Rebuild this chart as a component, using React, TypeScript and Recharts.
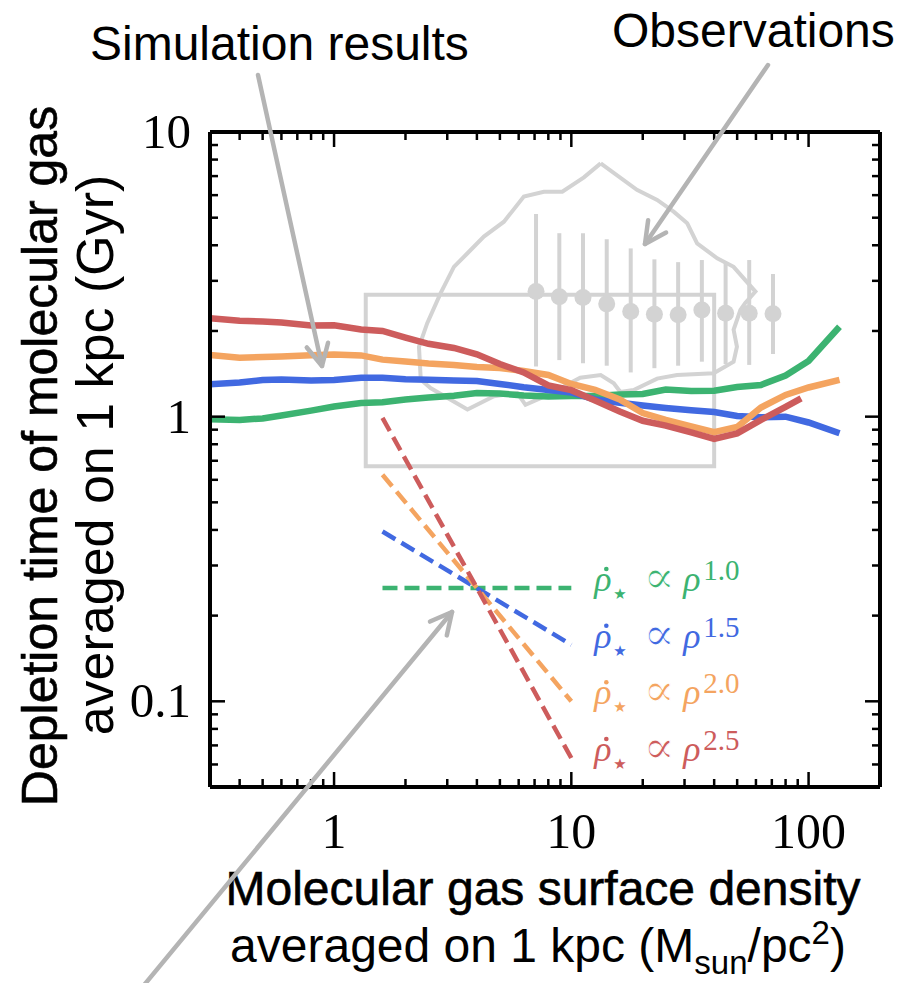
import React from 'react';
import { ComposedChart, Line, Scatter, XAxis, YAxis, ReferenceArea, ErrorBar } from 'recharts';

// surface density bins of the simulation curves (Msun/pc^2)
const sigma = [0.3, 0.4, 0.5, 0.6, 0.8, 1.0, 1.3, 1.6, 2.0, 2.5, 3.2, 4, 5, 6.3, 8, 10, 12.6, 16, 20, 25, 32, 40, 50, 63, 80, 100, 135];
const tdepGreen = [0.98, 0.974, 0.986, 1.01, 1.05, 1.086, 1.117, 1.124, 1.149, 1.168, 1.185, 1.211, 1.206, 1.187, 1.178, 1.182, 1.182, 1.197, 1.202, 1.246, 1.231, 1.233, 1.271, 1.292, 1.395, 1.569, 2.07];
const tdepBlue = [1.3, 1.318, 1.346, 1.351, 1.34, 1.344, 1.371, 1.371, 1.353, 1.348, 1.341, 1.335, 1.303, 1.269, 1.241, 1.216, 1.149, 1.119, 1.095, 1.073, 1.053, 1.039, 1.006, 0.995, 1.0, 0.954, 0.874];
const tdepOrange = [1.647, 1.611, 1.62, 1.627, 1.643, 1.654, 1.641, 1.586, 1.563, 1.538, 1.519, 1.495, 1.483, 1.447, 1.401, 1.303, 1.243, 1.15, 1.03, 0.974, 0.924, 0.882, 0.92, 1.077, 1.192, 1.266, 1.346];
const redSigma = [0.3, 0.4, 0.5, 0.6, 0.8, 1.0, 1.3, 1.6, 2.0, 2.5, 3.2, 4, 5, 6.3, 8, 10, 12.6, 16, 20, 25, 32, 40, 50, 63, 80, 93];
const tdepRed = [2.216, 2.174, 2.16, 2.142, 2.091, 2.094, 2.025, 2.0, 1.897, 1.803, 1.743, 1.656, 1.531, 1.43, 1.287, 1.239, 1.14, 1.042, 0.967, 0.93, 0.88, 0.835, 0.873, 0.974, 1.082, 1.16];

// observations: medians with upper / lower bounds
const obsSigma = [7.1, 8.9, 11.2, 14.1, 17.8, 22.4, 28.2, 35.5, 44.7, 56.2, 70.8];
const obsMedian = [2.75, 2.64, 2.62, 2.49, 2.34, 2.29, 2.28, 2.37, 2.31, 2.31, 2.3];
const obsUpper = [5.15, 4.41, 4.41, 4.2, 3.9, 3.57, 3.49, 3.55, 3.46, 3.55, 3.17];
const obsLower = [1.5, 1.58, 1.54, 1.51, 1.43, 1.48, 1.51, 1.56, 1.53, 1.52, 1.66];

// observation contour
const contourSigma = [13.3, 18.9, 23.0, 27.0, 30.8, 33.9, 41.2, 48.3, 59.7, 54.1, 51.6, 48.3, 49.9, 48.3, 39.8, 27.9, 23.0, 18.3, 16.1, 15.1, 13.3, 10.9, 7.92, 6.41, 5.92, 4.72, 3.65, 2.55, 2.32, 2.28, 2.47, 2.81, 3.2, 3.65, 4.28, 5.2, 6.31, 7.66, 9.16, 11.3, 13.3];
const contourTdep = [7.76, 6.26, 5.77, 5.25, 4.78, 4.06, 3.6, 3.36, 2.75, 2.51, 2.37, 2.02, 1.76, 1.56, 1.42, 1.4, 1.36, 1.24, 1.22, 1.31, 1.4, 1.37, 1.19, 1.1, 1.21, 1.18, 1.06, 1.26, 1.35, 1.76, 2.13, 2.71, 3.36, 3.75, 4.29, 4.84, 5.93, 6.17, 6.17, 6.93, 7.76];
const boxSigma = [1.36, 40];
const boxTdep = [0.67, 2.68];

// power-law guides
const lawSigma = [1.6, 10];
const law10 = [0.25, 0.25];
const law15 = [0.395, 0.158];
const law20 = [0.625, 0.1];
const law25 = [0.99, 0.0632];

const xTicks = [0.3, 0.4, 0.5, 0.6, 0.7, 0.8, 0.9, 1, 2, 3, 4, 5, 6, 7, 8, 9, 10, 20, 30, 40, 50, 60, 70, 80, 90, 100, 200];
const xMajor = [1, 10, 100];
const yTicks = [0.05, 0.06, 0.07, 0.08, 0.09, 0.1, 0.2, 0.3, 0.4, 0.5, 0.6, 0.7, 0.8, 0.9, 1, 2, 3, 4, 5, 6, 7, 8, 9, 10];
const yMajor = [0.1, 1, 10];

const GREEN = '#3CB371';
const BLUE = '#4169E1';
const ORANGE = '#F4A460';
const RED = '#CD5C5C';
const LIGHT = '#D3D3D3';
const ARROW = '#B4B4B4';
const SANS = '"Liberation Sans", Arial, sans-serif';
const SERIF = '"Liberation Serif", "DejaVu Serif", serif';

const pts = (xs: number[], ys: number[]) => xs.map((x, i) => ({ x, y: ys[i] }));

const obsData = obsSigma.map((x, i) => ({
  x,
  y: obsMedian[i],
  err: [obsMedian[i] - obsLower[i], obsUpper[i] - obsMedian[i]],
}));

const BottomTick = (p: any) => {
  const major = xMajor.includes(p.payload.value);
  return (
    <g>
      <line x1={p.x} x2={p.x} y1={p.y} y2={p.y - (major ? 15 : 8)} stroke="#000" strokeWidth={2.5} />
      {major && (
        <text x={p.x} y={p.y + 61} textAnchor="middle" fontFamily={SERIF} fontSize={50} fill="#000">
          {p.payload.value}
        </text>
      )}
    </g>
  );
};

const TopTick = (p: any) => {
  const major = xMajor.includes(p.payload.value);
  return <line x1={p.x} x2={p.x} y1={p.y} y2={p.y + (major ? 15 : 8)} stroke="#000" strokeWidth={2.5} />;
};

const LeftTick = (p: any) => {
  const major = yMajor.includes(p.payload.value);
  return (
    <g>
      <line x1={p.x} x2={p.x + (major ? 15 : 8)} y1={p.y} y2={p.y} stroke="#000" strokeWidth={2.5} />
      {major && (
        <text x={p.x - 19} y={p.y + 16} textAnchor="end" fontFamily={SERIF} fontSize={49} fill="#000">
          {String(p.payload.value)}
        </text>
      )}
    </g>
  );
};

const RightTick = (p: any) => {
  const major = yMajor.includes(p.payload.value);
  return <line x1={p.x} x2={p.x - (major ? 15 : 8)} y1={p.y} y2={p.y} stroke="#000" strokeWidth={2.5} />;
};

// label "rho-dot-star ∝ rho^n" at the right end of a power-law guide
const lawLabel = (color: string, exp: string) => (p: any) => {
  if (p.index !== 1) return <g />;
  return (
    <g transform={`translate(${p.x + 23},${p.y + 3})`} fill={color}>
      <text x={0} y={0} fontFamily={SERIF} fontStyle="italic" fontSize={36}>ρ</text>
      <circle cx={12} cy={-22} r={2.3} />
      <text x={19} y={8} fontFamily="DejaVu Sans, sans-serif" fontSize={15}>★</text>
      <text x={49} y={2} fontFamily="DejaVu Serif, serif" fontSize={47} stroke="#fff" strokeWidth={1}>∝</text>
      <text x={89} y={0} fontFamily={SERIF} fontStyle="italic" fontSize={36}>ρ</text>
      <text x={109} y={-11} fontFamily={SERIF} fontSize={29}>{exp}</text>
    </g>
  );
};

const Arrow = ({ x1, y1, x2, y2 }: { x1: number; y1: number; x2: number; y2: number }) => {
  const len = Math.hypot(x2 - x1, y2 - y1);
  const bx = (x1 - x2) / len;
  const by = (y1 - y2) / len;
  const a = (27 * Math.PI) / 180;
  const h = 24;
  const w1 = [x2 + h * (bx * Math.cos(a) - by * Math.sin(a)), y2 + h * (bx * Math.sin(a) + by * Math.cos(a))];
  const w2 = [x2 + h * (bx * Math.cos(-a) - by * Math.sin(-a)), y2 + h * (bx * Math.sin(-a) + by * Math.cos(-a))];
  return (
    <g stroke={ARROW} strokeWidth={4.5} fill="none" strokeLinecap="round" strokeLinejoin="round">
      <line x1={x1} y1={y1} x2={x2} y2={y2} />
      <polyline points={`${w1[0]},${w1[1]} ${x2},${y2} ${w2[0]},${w2[1]}`} />
    </g>
  );
};

const axisIds = { xAxisId: 'b', yAxisId: 'l' };
const frame = { stroke: '#000', strokeWidth: 4 };

export default function App() {
  return (
    <div style={{ position: 'absolute', left: 0, top: 0, width: 897, height: 983, background: '#fff' }}>
      <ComposedChart width={897} height={983} margin={{ top: 131, right: 16, bottom: 195, left: 209 }}>
        <XAxis xAxisId="b" dataKey="x" type="number" scale="log" domain={[0.3, 200]} allowDataOverflow
          ticks={xTicks} interval={0} height={1} tickSize={0} tickMargin={0} tickLine={false} tick={BottomTick} axisLine={frame} />
        <XAxis xAxisId="t" orientation="top" dataKey="x" type="number" scale="log" domain={[0.3, 200]} allowDataOverflow
          ticks={xTicks} interval={0} height={1} tickSize={0} tickMargin={0} tickLine={false} tick={TopTick} axisLine={frame} />
        <YAxis yAxisId="l" type="number" scale="log" domain={[0.05, 10]} allowDataOverflow
          ticks={yTicks} interval={0} width={1} tickSize={0} tickMargin={0} tickLine={false} tick={LeftTick} axisLine={frame} />
        <YAxis yAxisId="r" orientation="right" type="number" scale="log" domain={[0.05, 10]} allowDataOverflow
          ticks={yTicks} interval={0} width={1} tickSize={0} tickMargin={0} tickLine={false} tick={RightTick} axisLine={frame} />

        <ReferenceArea {...axisIds} x1={boxSigma[0]} x2={boxSigma[1]} y1={boxTdep[0]} y2={boxTdep[1]}
          fill="none" fillOpacity={0} stroke={LIGHT} strokeWidth={4} ifOverflow="visible" />
        <Line {...axisIds} data={pts(contourSigma, contourTdep)} dataKey="y" type="linear" stroke={LIGHT} strokeWidth={4} dot={false} isAnimationActive={false} />
        <Scatter {...axisIds} data={obsData} dataKey="y" fill={LIGHT} isAnimationActive={false}
          shape={(p: any) => <circle cx={p.cx} cy={p.cy} r={8.5} fill={LIGHT} />}>
          <ErrorBar dataKey="err" direction="y" width={0} stroke={LIGHT} strokeWidth={4} />
        </Scatter>

        <Line {...axisIds} data={pts(sigma, tdepGreen)} dataKey="y" type="linear" stroke={GREEN} strokeWidth={6.5} dot={false} isAnimationActive={false} />
        <Line {...axisIds} data={pts(sigma, tdepBlue)} dataKey="y" type="linear" stroke={BLUE} strokeWidth={6.5} dot={false} isAnimationActive={false} />
        <Line {...axisIds} data={pts(sigma, tdepOrange)} dataKey="y" type="linear" stroke={ORANGE} strokeWidth={6.5} dot={false} isAnimationActive={false} />
        <Line {...axisIds} data={pts(redSigma, tdepRed)} dataKey="y" type="linear" stroke={RED} strokeWidth={6.5} dot={false} isAnimationActive={false} />

        <Line {...axisIds} data={pts(lawSigma, law10)} dataKey="y" stroke={GREEN} strokeWidth={4.5} strokeDasharray="15 7" dot={false} isAnimationActive={false} label={lawLabel(GREEN, '1.0')} />
        <Line {...axisIds} data={pts(lawSigma, law15)} dataKey="y" stroke={BLUE} strokeWidth={4.5} strokeDasharray="15 7" dot={false} isAnimationActive={false} label={lawLabel(BLUE, '1.5')} />
        <Line {...axisIds} data={pts(lawSigma, law20)} dataKey="y" stroke={ORANGE} strokeWidth={4.5} strokeDasharray="15 7" dot={false} isAnimationActive={false} label={lawLabel(ORANGE, '2.0')} />
        <Line {...axisIds} data={pts(lawSigma, law25)} dataKey="y" stroke={RED} strokeWidth={4.5} strokeDasharray="15 7" dot={false} isAnimationActive={false} label={lawLabel(RED, '2.5')} />
      </ComposedChart>

      <svg width={897} height={983} style={{ position: 'absolute', left: 0, top: 0, pointerEvents: 'none' }}>
        <text x={90} y={60} fontFamily={SANS} fontSize={48} fill="#000">Simulation results</text>
        <text x={612} y={47} fontFamily={SANS} fontSize={48} fill="#000">Observations</text>

        <text transform="translate(57,456) rotate(-90)" textAnchor="middle" fontFamily={SANS} fontSize={50} fill="#000" stroke="#000" strokeWidth={0.6}>
          Depletion time of molecular gas
        </text>
        <text transform="translate(113,455) rotate(-90)" textAnchor="middle" fontFamily={SANS} fontSize={52} fill="#000">
          averaged on 1 kpc (Gyr)
        </text>

        <text x={543} y={905} textAnchor="middle" fontFamily={SANS} fontSize={48} fill="#000" stroke="#000" strokeWidth={0.6}>
          Molecular gas surface density
        </text>
        <text x={538} y={962} textAnchor="middle" fontFamily={SANS} fontSize={48} fill="#000">
          averaged on 1 kpc (M
          <tspan fontSize={33} dy={12}>sun</tspan>
          <tspan dy={-12}>/pc</tspan>
          <tspan fontSize={33} dy={-18}>2</tspan>
          <tspan dy={18}>)</tspan>
        </text>

        <Arrow x1={258} y1={75} x2={322} y2={366} />
        <Arrow x1={768} y1={65} x2={645} y2={244} />
        <Arrow x1={140} y1={990} x2={452} y2={612} />
      </svg>
    </div>
  );
}
